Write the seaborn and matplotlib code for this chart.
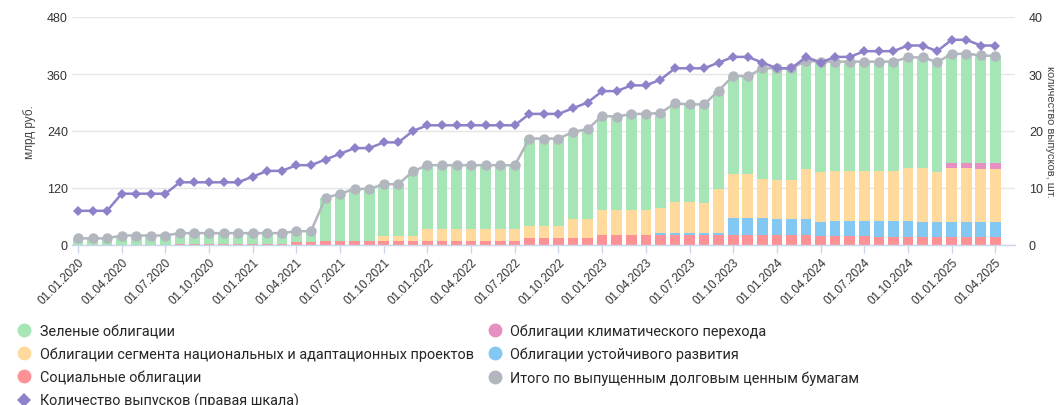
import numpy as np
import pandas as pd
import matplotlib
matplotlib.use("Agg")
import matplotlib.pyplot as plt
from matplotlib.lines import Line2D
import seaborn as sns

sns.set_theme(style="white")
plt.rcParams['font.family'] = ['Liberation Sans', 'DejaVu Sans']

# monthly data, 01.01.2020 .. 01.04.2025
dates = pd.date_range("2020-01-01", "2025-04-01", freq="MS")

green = [14, 14, 14, 20, 20, 20, 20, 23, 23, 23, 23, 23, 23, 23, 23, 21,
         21, 91, 100, 110, 110, 110, 110, 137, 134, 134, 134, 134, 134, 134, 134, 185,
         185, 185, 183, 189, 199, 197, 203, 203, 200, 206, 204, 206, 207, 206, 205, 232,
         235, 235, 229, 233, 231, 231, 231, 231, 231, 232, 232, 232, 229, 230, 227, 226]
national = [0, 0, 0, 0, 0, 0, 0, 0, 0, 0, 0, 0, 0, 0, 0, 0,
            0, 0, 0, 0, 0, 10, 10, 10, 26, 26, 26, 26, 26, 26, 26, 25,
            25, 25, 40, 40, 51, 51, 51, 51, 51, 65, 65, 64, 92, 94, 94, 84,
            83, 83, 105, 105, 105, 105, 105, 105, 105, 113, 115, 105, 115, 115, 113, 113]
social = [0, 0, 0, 0, 0, 0, 0, 2, 2, 2, 2, 2, 2, 2, 2, 7,
          7, 8, 8, 8, 8, 8, 8, 8, 8, 8, 8, 8, 8, 8, 8, 15,
          15, 15, 15, 15, 22, 22, 22, 22, 22, 22, 22, 22, 22, 22, 22, 22,
          22, 22, 22, 18, 18, 18, 18, 16, 16, 16, 16, 16, 16, 16, 16, 16]
sustainable = [0, 0, 0, 0, 0, 0, 0, 0, 0, 0, 0, 0, 0, 0, 0, 0,
               0, 0, 0, 0, 0, 0, 0, 0, 0, 0, 0, 0, 0, 0, 0, 0,
               0, 0, 0, 0, 0, 0, 0, 0, 4, 4, 4, 3, 3, 34, 34, 34,
               32, 32, 32, 30, 32, 32, 32, 34, 34, 34, 32, 32, 32, 32, 32, 32]
climate = [0] * 60 + [10, 10, 11, 11]
total = [14, 14, 14, 20, 20, 20, 20, 25, 25, 25, 25, 25, 25, 25, 25, 29,
         29, 99, 108, 118, 118, 128, 128, 155, 168, 168, 168, 168, 168, 168, 168, 224,
         224, 224, 238, 244, 272, 270, 276, 276, 278, 298, 296, 296, 325, 356, 355, 372,
         372, 372, 388, 386, 386, 386, 386, 386, 386, 395, 395, 385, 402, 403, 399, 398]
issues = [6, 6, 6, 9, 9, 9, 9, 11, 11, 11, 11, 11, 12, 13, 13, 14,
          14, 15, 16, 17, 17, 18, 18, 20, 21, 21, 21, 21, 21, 21, 21, 23,
          23, 23, 24, 25, 27, 27, 28, 28, 29, 31, 31, 31, 32, 33, 33, 32,
          31, 31, 33, 32, 33, 33, 34, 34, 34, 35, 35, 34, 36, 36, 35, 35]

labels = {
    'green': "Зеленые облигации",
    'national': "Облигации сегмента национальных и адаптационных проектов",
    'social': "Социальные облигации",
    'issues': "Количество выпусков (правая шкала)",
    'climate': "Облигации климатического перехода",
    'sustainable': "Облигации устойчивого развития",
    'total': "Итого по выпущенным долговым ценным бумагам",
}
colors = {
    'green': '#a6e5b5',
    'national': '#ffda9c',
    'social': '#fc9196',
    'sustainable': '#82c8f3',
    'climate': '#e78fc2',
    'total': '#b2b6be',
    'issues': '#8e81ca',
}

df = pd.DataFrame({'x': np.arange(len(dates)), 'social': social,
                   'sustainable': sustainable, 'national': national,
                   'climate': climate, 'green': green,
                   'total': total, 'issues': issues})

fig = plt.figure(figsize=(10.56, 4.06), dpi=100)
ax = fig.add_axes([72 / 1056, 160 / 406, 943 / 1056, 228 / 406])

bottom = np.zeros(len(df))
for key in ['social', 'sustainable', 'national', 'climate', 'green']:
    ax.bar(df['x'], df[key], bottom=bottom, width=0.73, color=colors[key],
           linewidth=0, zorder=2)
    bottom += df[key].values

sns.lineplot(data=df, x='x', y='total', ax=ax, color=colors['total'], lw=1.8,
             marker='o', markersize=7.5, markeredgewidth=0, zorder=3)

ax.set_xlim(-0.41, 64.35)
ax.set_ylim(0, 480)
ax.set_yticks([0, 120, 240, 360, 480])
ax.grid(axis='y', color='#e6e6e6', lw=1, zorder=0)
for s in ['top', 'right', 'left']:
    ax.spines[s].set_visible(False)
ax.spines['bottom'].set_color('#ccd6eb')
ax.spines['bottom'].set_linewidth(1)
tick_pos = df['x'][::3]
ax.set_xticks(tick_pos)
ax.set_xticklabels([d.strftime('%d.%m.%Y') for d in dates[::3]], rotation=45,
                   ha='right', rotation_mode='anchor', fontsize=8.5, color='#333333')
ax.tick_params(axis='x', length=6, width=1, color='#ccd6eb', pad=2, bottom=True)
ax.tick_params(axis='y', length=0, labelsize=9, labelcolor='#333333', pad=3)
ax.set_xlabel('')
ax.set_ylabel('')

ax2 = ax.twinx()
sns.lineplot(data=df, x='x', y='issues', ax=ax2, color=colors['issues'], lw=1.8,
             marker='D', markersize=5, markeredgewidth=0, zorder=4)
ax2.set_ylim(0, 40)
ax2.set_yticks([0, 10, 20, 30, 40])
ax2.set_xlim(-0.41, 64.35)
ax2.grid(False)
for s in ax2.spines.values():
    s.set_visible(False)
ax2.tick_params(axis='y', length=0, labelsize=9, labelcolor='#333333', pad=10)
ax2.set_ylabel('')
ax2.set_xlabel('')

fig.text(30 / 1056, 1 - 132 / 406, "млрд руб.", rotation=90, ha='center',
         va='center', fontsize=8.5, color='#444444')
fig.text(1050 / 1056, 1 - 132 / 406, "количество выпусков, шт.", rotation=270,
         ha='center', va='center', fontsize=8, color='#444444')

order = ['green', 'national', 'social', 'issues', 'climate', 'sustainable', 'total']
handles = []
for key in order:
    m = 'D' if key == 'issues' else 'o'
    ms = 7 if key == 'issues' else 10
    handles.append(Line2D([], [], ls='', marker=m, markersize=ms,
                          markerfacecolor=colors[key], markeredgewidth=0,
                          label=labels[key]))
fig.legend(handles=handles, loc='upper left', bbox_to_anchor=(0.004, 0.232),
           ncol=2, frameon=False, handlelength=1.0,
           handletextpad=0.55, columnspacing=1.0, labelspacing=0.6,
           prop={'family': ['Roboto', 'DejaVu Sans'], 'size': 10.4})

fig.savefig('out.png', dpi=100)
